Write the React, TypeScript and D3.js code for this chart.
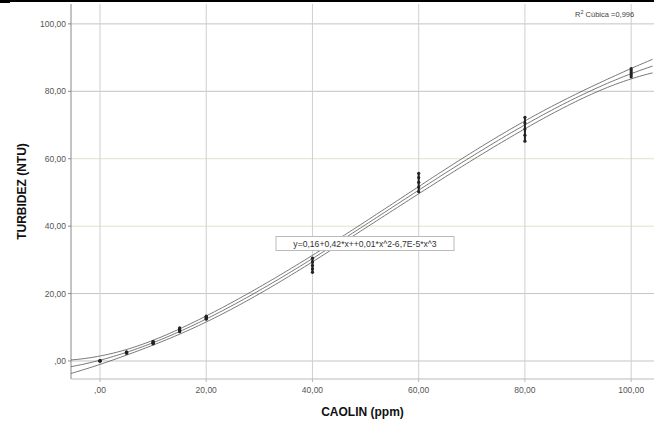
import React from "react";
import * as d3 from "d3";

// ---- data ----
const caolinLevels = [0, 5, 10, 15, 20, 40, 60, 80, 100];
const turbidityReplicates = [
  [0, 0, 0.1, 0, 0.1],
  [2.3, 2.4, 2.5, 2.6, 2.7],
  [5.1, 5.3, 5.5, 5.7, 5.8],
  [8.7, 9.0, 9.3, 9.6, 9.8],
  [12.4, 12.7, 12.9, 13.1, 13.3],
  [26.3, 27.3, 28.3, 29.4, 30.5],
  [50.2, 51.6, 53.0, 54.4, 55.7],
  [65.2, 67.0, 68.8, 70.6, 72.3],
  [84.3, 84.9, 85.5, 86.1, 86.7],
];
const xTicks = [0, 20, 40, 60, 80, 100];
const yTicks = [0, 20, 40, 60, 80, 100];
const xTitle = "CAOLIN (ppm)";
const yTitle = "TURBIDEZ (NTU)";
const equationLabel = "y=0,16+0,42*x++0,01*x^2-6,7E-5*x^3";
const r2Label = "0,996";
const tCritical = 2.02;

const W = 654;
const H = 427;
const left = 71, right = 654, top = 4, bottom = 379;

function fmt(v: number) {
  const s = v.toFixed(2).replace(".", ",");
  return v === 0 ? ",00" : s;
}

function invert(m: number[][]) {
  const n = m.length;
  const a = m.map((r, i) => [...r, ...Array.from({ length: n }, (_, j) => (i === j ? 1 : 0))]);
  for (let c = 0; c < n; c++) {
    let p = c;
    for (let r = c + 1; r < n; r++) if (Math.abs(a[r][c]) > Math.abs(a[p][c])) p = r;
    [a[c], a[p]] = [a[p], a[c]];
    const pv = a[c][c];
    for (let k = 0; k < 2 * n; k++) a[c][k] /= pv;
    for (let r = 0; r < n; r++) {
      if (r === c) continue;
      const f = a[r][c];
      for (let k = 0; k < 2 * n; k++) a[r][k] -= f * a[c][k];
    }
  }
  return a.map((r) => r.slice(n));
}

const points: { x: number; y: number }[] = [];
caolinLevels.forEach((x, i) => turbidityReplicates[i].forEach((y) => points.push({ x, y })));

// cubic least-squares fit (x scaled by 1/100 for conditioning)
const basis = (x: number) => {
  const u = x / 100;
  return [1, u, u * u, u * u * u];
};
const XtX = Array.from({ length: 4 }, () => [0, 0, 0, 0]);
const Xty = [0, 0, 0, 0];
points.forEach((p) => {
  const b = basis(p.x);
  for (let i = 0; i < 4; i++) {
    Xty[i] += b[i] * p.y;
    for (let j = 0; j < 4; j++) XtX[i][j] += b[i] * b[j];
  }
});
const inv = invert(XtX);
const beta = inv.map((r) => r.reduce((s, v, j) => s + v * Xty[j], 0));
const predict = (x: number) => basis(x).reduce((s, v, i) => s + v * beta[i], 0);
const sse = points.reduce((s, p) => s + (p.y - predict(p.x)) ** 2, 0);
const s2 = sse / (points.length - 4);
const halfWidth = (x: number) => {
  const b = basis(x);
  let q = 0;
  for (let i = 0; i < 4; i++) for (let j = 0; j < 4; j++) q += b[i] * inv[i][j] * b[j];
  return tCritical * Math.sqrt(s2 * q);
};

export default function App() {
  const x = d3.scaleLinear().domain([-5.46, 104.3]).range([left, right]);
  const y = d3.scaleLinear().domain([-5.34, 105.9]).range([bottom, top]);
  const xs = d3.range(-5.46, 104.4, 0.5);
  const mk = (f: (v: number) => number) =>
    d3.line<number>().x((v) => x(v)).y((v) => y(f(v)))(xs) || "";
  const mid = mk(predict);
  const up = mk((v) => predict(v) + halfWidth(v));
  const lo = mk((v) => predict(v) - halfWidth(v));
  const font = "'Liberation Sans', Arial, sans-serif";
  const hColor = (t: number) => (t === 40 || t === 60 ? "#e2e2c8" : "#c4c4c4");

  return (
    <svg width={W} height={H} style={{ position: "absolute", left: 0, top: 0, background: "#fff" }} fontFamily={font}>
      <rect x={0} y={0} width={W} height={H} fill="#fff" />
      <rect x={0} y={0} width={W} height={2} fill="#000" />
      <rect x={0} y={0} width={10} height={3} fill="#000" />
      <defs>
        <clipPath id="plot">
          <rect x={left} y={top} width={right - left} height={bottom - top} />
        </clipPath>
      </defs>
      {yTicks.map((t) => (
        <line key={"h" + t} x1={left} x2={right} y1={y(t)} y2={y(t)} stroke={hColor(t)} strokeWidth={1} />
      ))}
      {xTicks.map((t) => (
        <line key={"v" + t} x1={x(t)} x2={x(t)} y1={top} y2={bottom} stroke="#cfcfcf" strokeWidth={1} />
      ))}
      <line x1={left} x2={left} y1={top} y2={bottom} stroke="#888" strokeWidth={1} />
      <line x1={left} x2={right} y1={bottom} y2={bottom} stroke="#bbb" strokeWidth={1} />
      {yTicks.map((t) => (
        <g key={"yt" + t}>
          <line x1={left - 3} x2={left} y1={y(t)} y2={y(t)} stroke="#888" />
          <text x={left - 5} y={y(t)} dy="0.35em" textAnchor="end" fontSize={8.5} fill="#555">
            {fmt(t)}
          </text>
        </g>
      ))}
      {xTicks.map((t) => (
        <g key={"xt" + t}>
          <line x1={x(t)} x2={x(t)} y1={bottom} y2={bottom + 3} stroke="#bbb" />
          <text x={x(t)} y={bottom + 14} textAnchor="middle" fontSize={8.5} fill="#555">
            {fmt(t)}
          </text>
        </g>
      ))}
      <g clipPath="url(#plot)" fill="none" stroke="#555" strokeWidth={0.8}>
        <path d={up} />
        <path d={mid} />
        <path d={lo} />
      </g>
      {caolinLevels.map((c, i) => {
        const [mn, mx] = d3.extent(turbidityReplicates[i]) as [number, number];
        return <line key={"r" + i} x1={x(c)} x2={x(c)} y1={y(mn)} y2={y(mx)} stroke="#222" strokeWidth={2} />;
      })}
      {points.map((p, i) => (
        <circle key={i} cx={x(p.x)} cy={y(p.y)} r={1.6} fill="#222" />
      ))}
      <g>
        <rect x={276} y={236.5} width={178} height={14} fill="#fff" stroke="#bbb" />
        <text x={365} y={243.5} dy="0.35em" textAnchor="middle" fontSize={8.6} fill="#333">
          {equationLabel}
        </text>
      </g>
      <text x={575} y={17} fontSize={7.5} fill="#444">
        R<tspan dy={-3} fontSize={5.5}>2</tspan>
        <tspan dy={3}> Cúbica ={r2Label}</tspan>
      </text>
      <text x={(left + right) / 2} y={416} textAnchor="middle" fontSize={12} fontWeight="bold" fill="#111">
        {xTitle}
      </text>
      <text transform={`translate(26,${(top + bottom) / 2}) rotate(-90)`} textAnchor="middle" fontSize={12} fontWeight="bold" fill="#111">
        {yTitle}
      </text>
    </svg>
  );
}
